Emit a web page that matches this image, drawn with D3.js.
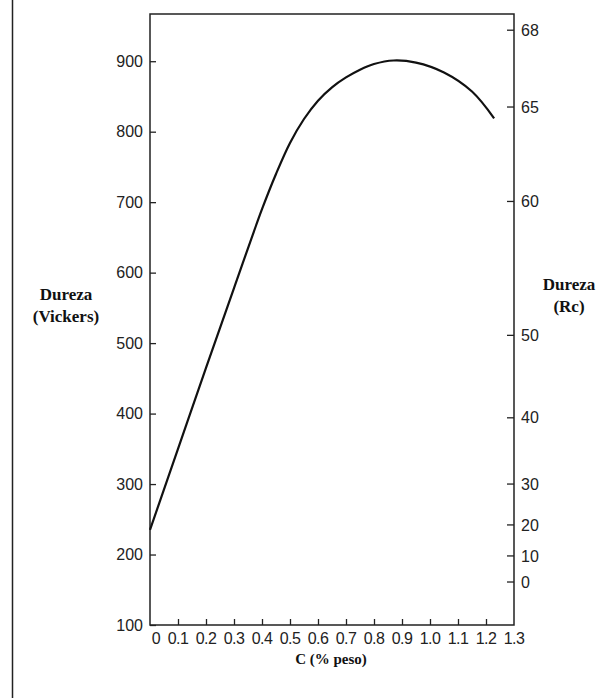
<!DOCTYPE html>
<html>
<head>
<meta charset="utf-8">
<script src="https://cdn.jsdelivr.net/npm/d3@7/dist/d3.min.js"></script>
<style>
  body { margin: 0; background: #fff; }
  svg { display: block; }
</style>
</head>
<body>
<div id="chart"></div>
<script>
// ---- data ----
var carbon = [0, 0.1, 0.2, 0.3, 0.4, 0.45, 0.5, 0.55, 0.6, 0.65, 0.7, 0.75, 0.8, 0.87, 0.95, 1.05, 1.15, 1.229];
var vickers = [235, 350, 465, 578, 690, 740, 784, 818, 844, 863, 877, 888, 896, 901, 898, 884, 857, 819];

var xTicks = [0, 0.1, 0.2, 0.3, 0.4, 0.5, 0.6, 0.7, 0.8, 0.9, 1.0, 1.1, 1.2, 1.3];
var xTickLabels = ["0", "0.1", "0.2", "0.3", "0.4", "0.5", "0.6", "0.7", "0.8", "0.9", "1.0", "1.1", "1.2", "1.3"];
var hvTicks = [100, 200, 300, 400, 500, 600, 700, 800, 900];
// Rockwell C ticks and the Vickers value each one sits at
var rcTicks = [68, 65, 60, 50, 40, 30, 20, 10, 0];
var rcAtHv = [944, 835, 701, 511, 394, 300, 242, 198, 161];

(function () {
    var W = 603, H = 698;
    var mLeft = 150, mRight = 514, mTop = 14, mBottom = 625;
    var ink = "#222";
    var sans = "'Liberation Sans', Arial, sans-serif";
    var serif = "'Liberation Serif', 'Times New Roman', serif";

    var svg = d3.select("#chart").append("svg")
        .attr("width", W).attr("height", H);

    var x = d3.scaleLinear().domain([0, 1.3]).range([mLeft, mRight]);
    var y = d3.scaleLinear().domain([100, 967]).range([mBottom, mTop]);

    // stray left border line of the scan
    svg.append("line")
        .attr("x1", 12.5).attr("x2", 12.5).attr("y1", 0).attr("y2", H)
        .attr("stroke", ink).attr("stroke-width", 1.5);

    // frame
    svg.append("path")
        .attr("d", "M" + mLeft + "," + mBottom + "V" + mTop + "H" + mRight + "V" + mBottom + "Z")
        .attr("fill", "none").attr("stroke", ink).attr("stroke-width", 1.5);

    // left axis, ticks pointing inward
    var yAxis = d3.axisRight(y).tickValues(hvTicks).tickSize(6).tickFormat("");
    svg.append("g").attr("transform", "translate(" + mLeft + ",0)").call(yAxis)
        .call(function (g) {
            g.select(".domain").remove();
            g.selectAll("line").attr("stroke", ink).attr("stroke-width", 1.3);
        });
    svg.append("g").selectAll("text").data(hvTicks).enter().append("text")
        .attr("x", mLeft - 7).attr("y", function (d) { return y(d); })
        .attr("dy", "0.35em").attr("text-anchor", "end")
        .style("font-family", sans).style("font-size", "16px")
        .attr("fill", ink).text(function (d) { return d; });

    // right axis (Rc), nonlinear against Vickers
    svg.append("g").selectAll("line").data(rcAtHv).enter().append("line")
        .attr("x1", mRight - 7).attr("x2", mRight)
        .attr("y1", function (d) { return y(d); }).attr("y2", function (d) { return y(d); })
        .attr("stroke", ink).attr("stroke-width", 1.3);
    svg.append("g").selectAll("text").data(rcTicks).enter().append("text")
        .attr("x", mRight + 7).attr("y", function (d, i) { return y(rcAtHv[i]); })
        .attr("dy", "0.35em")
        .style("font-family", sans).style("font-size", "16px")
        .attr("fill", ink).text(function (d) { return d; });

    // bottom axis, ticks pointing inward
    var xAxis = d3.axisTop(x).tickValues(xTicks.slice(1, -1)).tickSize(6).tickFormat("");
    svg.append("g").attr("transform", "translate(0," + mBottom + ")").call(xAxis)
        .call(function (g) {
            g.select(".domain").remove();
            g.selectAll("line").attr("stroke", ink).attr("stroke-width", 1.3);
        });
    svg.append("g").selectAll("text").data(xTicks).enter().append("text")
        .attr("x", function (d, i) { return x(d) + (i === 0 ? 6 : 0); })
        .attr("y", mBottom + 13).attr("dy", "0.35em").attr("text-anchor", "middle")
        .style("font-family", sans).style("font-size", "16px")
        .style("letter-spacing", "-0.6px")
        .attr("fill", ink).text(function (d, i) { return xTickLabels[i]; });

    // curve
    var line = d3.line()
        .x(function (d) { return x(d[0]); })
        .y(function (d) { return y(d[1]); })
        .curve(d3.curveCatmullRom);
    svg.append("path")
        .datum(d3.zip(carbon, vickers))
        .attr("d", line)
        .attr("fill", "none").attr("stroke", "#111").attr("stroke-width", 2.2);

    // titles
    function title(lines, cx, cy) {
        var t = svg.append("text").attr("text-anchor", "middle")
            .style("font-family", serif).style("font-weight", "bold").style("font-size", "17px")
            .attr("fill", "#111");
        lines.forEach(function (s, i) {
            t.append("tspan").attr("x", cx).attr("y", cy + i * 22).text(s);
        });
    }
    title(["Dureza", "(Vickers)"], 66, 300);
    title(["Dureza", "(Rc)"], 569, 290);

    svg.append("text").attr("x", 331).attr("y", 664).attr("text-anchor", "middle")
        .style("font-family", serif).style("font-weight", "bold").style("font-size", "15px")
        .attr("fill", "#111").text("C (% peso)");
})();
</script>
</body>
</html>
